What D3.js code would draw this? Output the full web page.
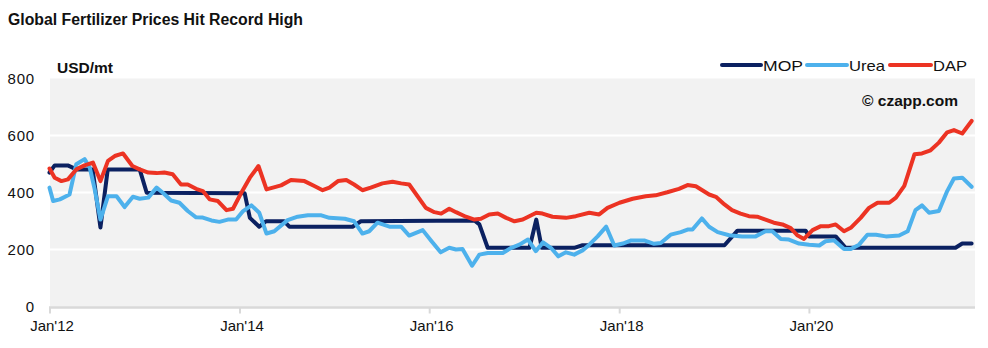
<!DOCTYPE html>
<html>
<head>
<meta charset="utf-8">
<script src="https://cdn.jsdelivr.net/npm/d3@7"></script>
<style>
  html, body { margin: 0; padding: 0; background: #ffffff; }
  svg { display: block; font-family: "Liberation Sans", Arial, Helvetica, sans-serif; }
</style>
</head>
<body>
<svg id="chart" width="988" height="348"></svg>
<script>
// ---------------- DATA ----------------
const seriesNames = ["MOP", "Urea", "DAP"];
const seriesColors = ["#0b2161", "#4db1ec", "#ec3323"];

const yTickValues = [0, 200, 400, 600, 800];
const xTickDates = ["2012-01-01", "2014-01-01", "2016-01-01", "2018-01-01", "2020-01-01"];
const xTickLabels = ["Jan'12", "Jan'14", "Jan'16", "Jan'18", "Jan'20"];

const mopData = [
  ["2012-01-01",470],["2012-01-21",495],["2012-03-11",495],["2012-04-14",481],["2012-06-15",481],
  ["2012-07-15",277],["2012-08-12",481],["2012-12-13",481],["2013-01-09",399],["2014-01-21",397],
  ["2014-02-10",311],["2014-03-18",280],["2014-04-13",299],["2014-06-22",299],["2014-07-12",280],
  ["2015-03-12",280],["2015-04-13",299],["2016-06-23",302],["2016-07-12",288],["2016-08-13",206],
  ["2017-01-21",206],["2017-02-16",305],["2017-03-09",206],["2017-07-12",206],["2017-08-13",215],
  ["2019-02-10",215],["2019-04-01",266],["2019-12-19",266],["2020-01-02",246],["2020-04-13",246],
  ["2020-05-21",206],["2021-07-18",206],["2021-08-13",221],["2021-09-18",221]
];

const ureaData = [
  ["2012-01-01",417],["2012-01-15",370],["2012-02-10",376],["2012-03-18",393],["2012-04-13",499],
  ["2012-05-15",517],["2012-06-04",487],["2012-06-23",411],["2012-07-15",305],["2012-08-13",387],
  ["2012-09-15",387],["2012-10-16",349],["2012-11-17",385],["2012-12-13",378],["2013-01-15",382],
  ["2013-02-16",417],["2013-03-12",399],["2013-04-13",372],["2013-05-15",364],["2013-06-16",335],
  ["2013-07-18",313],["2013-08-13",312],["2013-09-15",302],["2013-10-16",297],["2013-11-17",305],
  ["2013-12-19",305],["2014-01-15",335],["2014-02-16",355],["2014-03-18",329],["2014-04-15",256],
  ["2014-05-15",264],["2014-07-05",303],["2014-08-13",315],["2014-09-21",320],["2014-11-12",320],
  ["2014-12-13",311],["2015-02-10",308],["2015-03-18",299],["2015-04-19",256],["2015-05-15",264],
  ["2015-06-16",294],["2015-08-01",280],["2015-09-15",280],["2015-10-16",249],["2015-12-07",268],
  ["2016-01-10",229],["2016-02-14",190],["2016-03-18",206],["2016-04-13",200],["2016-05-08",202],
  ["2016-06-14",143],["2016-07-12",182],["2016-08-13",188],["2016-10-10",188],["2016-11-12",206],
  ["2016-12-13",217],["2017-01-15",235],["2017-02-14",194],["2017-03-14",225],["2017-04-13",206],
  ["2017-05-12",176],["2017-06-10",190],["2017-07-12",182],["2017-08-13",197],["2017-09-08",217],
  ["2017-10-10",246],["2017-11-12",280],["2017-12-13",214],["2018-01-15",221],["2018-02-16",232],
  ["2018-04-07",232],["2018-05-15",220],["2018-06-10",223],["2018-07-18",252],["2018-08-26",261],
  ["2018-09-21",270],["2018-10-10",270],["2018-11-15",309],["2018-12-13",280],["2019-01-15",261],
  ["2019-02-28",250],["2019-04-19",246],["2019-06-10",246],["2019-07-18",264],["2019-08-13",264],
  ["2019-09-15",237],["2019-10-16",235],["2019-11-24",221],["2020-01-02",217],["2020-02-10",214],
  ["2020-03-05",229],["2020-04-07",232],["2020-05-15",202],["2020-06-10",202],["2020-07-12",217],
  ["2020-08-13",252],["2020-09-15",252],["2020-10-23",246],["2020-12-13",249],["2021-01-15",264],
  ["2021-02-14",338],["2021-03-11",355],["2021-04-07",329],["2021-05-15",335],["2021-06-16",405],
  ["2021-07-12",449],["2021-08-13",452],["2021-09-18",420]
];

const dapData = [
  ["2012-01-01",484],["2012-01-21",452],["2012-02-16",440],["2012-03-12",446],["2012-04-13",481],
  ["2012-05-15",495],["2012-06-16",505],["2012-07-15",440],["2012-08-13",511],["2012-09-08",528],
  ["2012-10-10",537],["2012-11-15",493],["2012-12-13",481],["2013-01-15",470],["2013-02-16",468],
  ["2013-03-18",470],["2013-04-19",464],["2013-05-21",428],["2013-06-16",428],["2013-07-18",413],
  ["2013-08-13",405],["2013-09-08",376],["2013-10-10",370],["2013-11-12",338],["2013-12-07",343],
  ["2014-01-08",399],["2014-02-10",452],["2014-03-15",493],["2014-04-15",411],["2014-06-10",425],
  ["2014-07-18",444],["2014-09-08",440],["2014-10-16",423],["2014-11-17",408],["2014-12-13",417],
  ["2015-01-15",440],["2015-02-16",444],["2015-03-18",428],["2015-04-19",408],["2015-05-21",417],
  ["2015-07-05",432],["2015-08-13",438],["2015-09-15",432],["2015-10-16",428],["2015-12-19",346],
  ["2016-01-21",331],["2016-02-16",326],["2016-03-18",343],["2016-04-13",331],["2016-05-21",315],
  ["2016-06-23",305],["2016-07-18",308],["2016-08-19",323],["2016-09-21",326],["2016-10-23",311],
  ["2016-11-24",299],["2016-12-26",305],["2017-02-16",329],["2017-03-12",326],["2017-04-19",315],
  ["2017-06-10",311],["2017-07-18",317],["2017-09-08",329],["2017-10-16",323],["2017-11-17",346],
  ["2018-01-02",364],["2018-02-22",378],["2018-04-13",387],["2018-05-21",390],["2018-07-05",401],
  ["2018-08-19",413],["2018-09-21",426],["2018-10-23",422],["2018-12-13",393],["2019-01-08",385],
  ["2019-02-10",358],["2019-03-11",338],["2019-04-13",326],["2019-05-15",317],["2019-06-16",315],
  ["2019-07-18",305],["2019-08-19",294],["2019-09-21",288],["2019-10-23",275],["2019-11-17",250],
  ["2019-12-13",237],["2020-01-15",268],["2020-02-16",282],["2020-03-18",282],["2020-04-13",288],
  ["2020-05-15",264],["2020-06-10",276],["2020-07-18",311],["2020-08-19",346],["2020-09-21",364],
  ["2020-11-05",364],["2020-12-01",382],["2021-01-02",423],["2021-02-10",534],["2021-03-11",537],
  ["2021-04-13",548],["2021-05-15",575],["2021-06-16",611],["2021-07-12",619],["2021-08-13",607],
  ["2021-09-18",651]
];

// ---------------- CHART ----------------
const parse = d3.timeParse("%Y-%m-%d");
const allSeries = [mopData, ureaData, dapData].map((arr, i) => ({
  name: seriesNames[i],
  color: seriesColors[i],
  values: arr.map(d => ({ date: parse(d[0]), value: d[1] }))
}));

const svg = d3.select("#chart");
const plot = { left: 50, right: 975, top: 78.5, bottom: 306.5 };

const x = d3.scaleTime()
  .domain([parse("2012-01-01"), parse("2021-10-01")])
  .range([49.5, 975]);
const y = d3.scaleLinear().domain([0, 800]).range([plot.bottom, plot.top]);

// Title
svg.append("text")
  .attr("x", 8).attr("y", 25)
  .attr("font-size", 16).attr("font-weight", "bold").attr("fill", "#111")
  .attr("textLength", 295).attr("lengthAdjust", "spacingAndGlyphs")
  .text("Global Fertilizer Prices Hit Record High");

// Plot background
svg.append("rect")
  .attr("x", plot.left).attr("y", plot.top)
  .attr("width", plot.right - plot.left).attr("height", plot.bottom - plot.top)
  .attr("fill", "#f2f2f2");

// Gridlines
svg.append("g").selectAll("line")
  .data(yTickValues.filter(v => v > 0 && v < 800))
  .join("line")
  .attr("x1", plot.left).attr("x2", plot.right)
  .attr("y1", d => y(d)).attr("y2", d => y(d))
  .attr("stroke", "#ffffff").attr("stroke-width", 2);

// Y axis labels
const yAxis = svg.append("g")
  .attr("transform", `translate(${plot.left},0)`)
  .call(d3.axisLeft(y).tickValues(yTickValues).tickSize(0).tickPadding(15));
yAxis.select(".domain").remove();
yAxis.selectAll("text")
  .attr("font-size", 15).attr("fill", "#111")
  .attr("font-family", "'Liberation Sans', Arial, sans-serif")
  .style("letter-spacing", "0.8px")
  .attr("dy", "0.36em");

// X axis
const xAxis = svg.append("g")
  .attr("transform", `translate(0,${plot.bottom + 1})`)
  .call(d3.axisBottom(x)
    .tickValues(xTickDates.map(parse))
    .tickFormat((d, i) => xTickLabels[i])
    .tickSize(6).tickSizeOuter(0).tickPadding(7));
xAxis.select(".domain")
  .attr("stroke", "#d9d9d9").attr("stroke-width", 2.5)
  .attr("d", `M${plot.left - 1},0H${plot.right}`);
xAxis.selectAll(".tick line").attr("stroke", "#d9d9d9").attr("stroke-width", 2);
xAxis.selectAll("text")
  .attr("font-size", 15).attr("fill", "#111")
  .attr("font-family", "'Liberation Sans', Arial, sans-serif")
  .attr("dx", "2");

// Unit label
svg.append("text")
  .attr("x", 57).attr("y", 73)
  .attr("font-size", 15).attr("font-weight", "bold").attr("fill", "#111")
  .attr("textLength", 56).attr("lengthAdjust", "spacingAndGlyphs")
  .text("USD/mt");

// Copyright
svg.append("text")
  .attr("x", 862).attr("y", 106)
  .attr("font-size", 15).attr("font-weight", "bold").attr("fill", "#111")
  .attr("textLength", 96).attr("lengthAdjust", "spacingAndGlyphs")
  .text("\u00A9 czapp.com");

// Lines
const line = d3.line().x(d => x(d.date)).y(d => y(d.value));
svg.append("g").selectAll("path")
  .data(allSeries)
  .join("path")
  .attr("d", d => line(d.values))
  .attr("fill", "none")
  .attr("stroke", d => d.color)
  .attr("stroke-width", 4)
  .attr("stroke-linejoin", "round")
  .attr("stroke-linecap", "round");

// Legend
const legendPos = [
  { x1: 722, x2: 763, tl: 40 },
  { x1: 807, x2: 849, tl: 36 },
  { x1: 890, x2: 933, tl: 34 }
];
const legend = svg.append("g").selectAll("g")
  .data(allSeries)
  .join("g");
legend.append("line")
  .attr("x1", (d, i) => legendPos[i].x1).attr("x2", (d, i) => legendPos[i].x2 - 2)
  .attr("y1", 65).attr("y2", 65)
  .attr("stroke", d => d.color).attr("stroke-width", 4)
  .attr("stroke-linecap", "round");
legend.append("text")
  .attr("x", (d, i) => legendPos[i].x2).attr("y", 70.5)
  .attr("font-size", 15).attr("fill", "#111")
  .attr("textLength", (d, i) => legendPos[i].tl).attr("lengthAdjust", "spacingAndGlyphs")
  .text(d => d.name);
</script>
</body>
</html>
